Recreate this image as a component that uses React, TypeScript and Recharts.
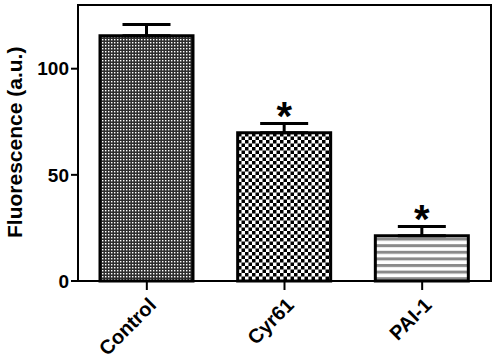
import { BarChart, Bar, XAxis, YAxis, ErrorBar, LabelList, ReferenceArea } from 'recharts';

const categories = ['Control', 'Cyr61', 'PAI-1'];
const means = [115.5, 69.8, 21.3];
const sems = [5.3, 4.4, 4.4];
const marks = ['', '*', '*'];
const yTicks = [0, 50, 100];
const patterns = ['patControl', 'patCyr', 'patPai'];

const data = categories.map((name, i) => ({
  name,
  value: means[i],
  err: [0, sems[i]],
  mark: marks[i],
  fill: `url(#${patterns[i]})`,
}));

const font = 'Arial, "Liberation Sans", sans-serif';

function XTick(props: any) {
  const { x, y, payload } = props;
  return (
    <g transform={`translate(${x},${y + 8})`}>
      <text
        transform="rotate(-45)"
        textAnchor="end"
        dy={12}
        dx={3}
        fontFamily={font}
        fontWeight="bold"
        fontSize={20}
        fill="#000"
      >
        {payload.value}
      </text>
    </g>
  );
}

function Star(props: any) {
  const { x, y, width, value } = props;
  if (!value) return null;
  return (
    <text
      x={x + width / 2}
      y={y - 3}
      textAnchor="middle"
      fontFamily={font}
      fontWeight="bold"
      fontSize={40}
      fill="#000"
    >
      {value}
    </text>
  );
}

export default function App() {
  return (
    <div style={{ position: 'absolute', left: 0, top: 0, background: '#fff' }}>
      <BarChart
        width={498}
        height={364}
        data={data}
        margin={{ top: 5, right: 7, bottom: 0, left: 0 }}
      >
        <defs>
          <pattern id="patControl" width={3} height={3} patternUnits="userSpaceOnUse">
            <rect width={3} height={3} fill="#2e2e2e" />
            <rect width={1.4} height={1.4} fill="#fff" />
          </pattern>
          <pattern id="patCyr" width={7} height={7} patternUnits="userSpaceOnUse">
            <rect width={7} height={7} fill="#fff" />
            <rect width={3.5} height={3.5} fill="#000" />
            <rect x={3.5} y={3.5} width={3.5} height={3.5} fill="#000" />
          </pattern>
          <pattern id="patPai" width={7} height={6.6} patternUnits="userSpaceOnUse">
            <rect width={7} height={6.6} fill="#fff" />
            <rect width={7} height={3} fill="#8a8a8a" />
          </pattern>
        </defs>
        <ReferenceArea y1={0} y2={130} fill="none" stroke="#000" strokeWidth={2} />
        <XAxis
          dataKey="name"
          height={83}
          axisLine={{ stroke: '#000', strokeWidth: 2 }}
          tickLine={{ stroke: '#000', strokeWidth: 2 }}
          tickSize={9}
          tick={<XTick />}
          interval={0}
        />
        <YAxis
          domain={[0, 130]}
          ticks={yTicks}
          width={78}
          axisLine={{ stroke: '#000', strokeWidth: 2 }}
          tickLine={{ stroke: '#000', strokeWidth: 2 }}
          tickSize={7}
          tick={{ fill: '#000', fontFamily: font, fontWeight: 'bold', fontSize: 19 }}
          label={{
            value: 'Fluorescence (a.u.)',
            angle: -90,
            position: 'insideLeft',
            dx: 10,
            dy: 95,
            style: { fill: '#000', fontFamily: font, fontWeight: 'bold', fontSize: 21 },
          }}
        />
        <Bar
          dataKey="value"
          barSize={93}
          stroke="#000"
          strokeWidth={3}
          isAnimationActive={false}
        >
          <ErrorBar
            dataKey="err"
            direction="y"
            width={24}
            stroke="#000"
            strokeWidth={3}
            isAnimationActive={false}
          />
          <LabelList dataKey="mark" content={<Star />} />
        </Bar>
      </BarChart>
    </div>
  );
}
